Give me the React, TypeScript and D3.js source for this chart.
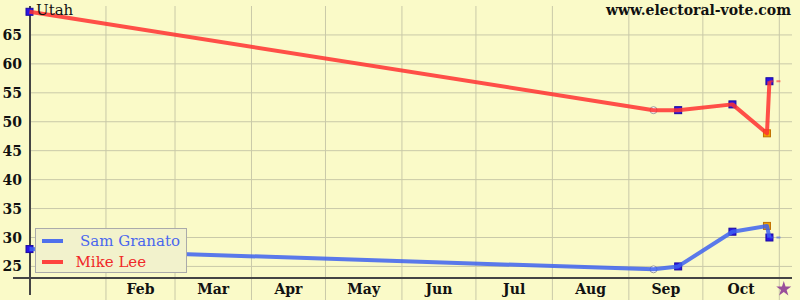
import React from "react";
import * as d3 from "d3";

const W = 800;
const H = 300;

const monthLabels = ["Feb", "Mar", "Apr", "May", "Jun", "Jul", "Aug", "Sep", "Oct"];
const monthStarts = ["2010-02-01", "2010-03-01", "2010-04-01", "2010-05-01", "2010-06-01", "2010-07-01", "2010-08-01", "2010-09-01", "2010-10-01", "2010-11-01"];
const yTicks = [25, 30, 35, 40, 45, 50, 55, 60, 65];

const pollDates = ["2010-01-01", "2010-09-11", "2010-09-21", "2010-10-13", "2010-10-27", "2010-10-28"];
const pollKinds = ["sq", "circ", "sq", "sq", "orange", "sq"];
const leeValues = [69, 52, 52, 53, 48, 57];
const granatoValues = [28, 24.5, 25, 31, 32, 30];
const electionDay = "2010-11-02";

const seriesNames = ["Sam Granato", "Mike Lee"];
const seriesColors = ["#3d62f0", "#ff3030"];
const legendTextColors = ["#4a66ee", "#f02828"];

const parse = (s: string) => new Date(s + "T00:00:00Z");

export default function App() {
  const x = d3.scaleUtc().domain([parse("2010-01-01"), parse("2010-11-01")]).range([29.5, 779.3]);
  const y = d3.scaleLinear().domain([23, 70]).range([278, 6]);

  const mkPts = (vals: number[]) => pollDates.map((d, i) => ({ x: x(parse(d)), y: y(vals[i]), kind: pollKinds[i] }));
  const series = [mkPts(granatoValues), mkPts(leeValues)];
  const line = d3.line<{ x: number; y: number }>().x((d) => d.x).y((d) => d.y);
  const xEnd = x(parse(electionDay));

  const gridColor = "#c9c9a8";
  const axisColor = "#444";
  const font = "'DejaVu Serif', 'Liberation Serif', serif";

  return (
    <svg width={W} height={H} style={{ position: "absolute", left: 0, top: 0 }} xmlns="http://www.w3.org/2000/svg">
      <rect x={0} y={0} width={W} height={H} fill="#fafac8" />
      {yTicks.map((t) => (
        <line key={"h" + t} x1={30} x2={792} y1={y(t)} y2={y(t)} stroke={gridColor} strokeWidth={1} />
      ))}
      {monthStarts.map((m) => (
        <line key={"v" + m} x1={x(parse(m))} x2={x(parse(m))} y1={6} y2={H} stroke={gridColor} strokeWidth={1} />
      ))}
      <line x1={13} x2={792} y1={y(23)} y2={y(23)} stroke={axisColor} strokeWidth={2} />
      <line x1={30} x2={30} y1={6} y2={295} stroke={axisColor} strokeWidth={2} />
      {yTicks.map((t) => (
        <text key={"yl" + t} x={22} y={y(t)} dy="0.36em" textAnchor="end" style={{ fontFamily: font }} fontWeight="bold" fontSize={14} fill="#111">
          {t}
        </text>
      ))}
      {monthLabels.map((m, i) => {
        const a = x(parse(monthStarts[i]));
        const b = x(parse(monthStarts[i + 1]));
        return (
          <text key={"xl" + m} x={(a + b) / 2} y={294} textAnchor="middle" style={{ fontFamily: font }} fontWeight="bold" fontSize={14} fill="#111">
            {m}
          </text>
        );
      })}
      {series.map((pts, si) =>
        pts.map((p, i) =>
          p.kind === "circ" ? (
            <circle key={`c${si}-${i}`} cx={p.x} cy={p.y} r={3.5} fill="#fff" stroke="#999" strokeWidth={1} />
          ) : (
            <rect
              key={`r${si}-${i}`}
              x={p.x - 3.5}
              y={p.y - 3.5}
              width={7}
              height={7}
              fill={p.kind === "orange" ? "#f0a000" : "#2a14e6"}
              stroke={p.kind === "orange" ? "#c07000" : "#1a0aa0"}
              strokeWidth={1}
            />
          )
        )
      )}
      {series.map((pts, si) => (
        <g key={"l" + si}>
          <path d={line(pts) || ""} fill="none" stroke={seriesColors[si]} strokeWidth={4} strokeOpacity={0.85} strokeLinejoin="round" />
          <line
            x1={pts[pts.length - 1].x}
            x2={xEnd}
            y1={pts[pts.length - 1].y}
            y2={pts[pts.length - 1].y}
            stroke={seriesColors[si]}
            strokeOpacity={0.6}
            strokeWidth={2}
            strokeDasharray="4,3"
          />
        </g>
      ))}
      <path d={d3.symbol().type(d3.symbolStar).size(70)() || ""} transform={`translate(${xEnd + 2},289)`} fill="#9a4f9a" />
      <text x={36} y={15} style={{ fontFamily: font }} fontSize={15} fill="#111">
        Utah
      </text>
      <text x={791} y={15} textAnchor="end" style={{ fontFamily: font }} fontWeight="bold" fontSize={14} fill="#111">
        www.electoral-vote.com
      </text>
      <rect x={35.5} y={228.5} width={151} height={44} fill="#f2f2cc" stroke="#aaa" strokeWidth={1} />
      {seriesNames.map((n, i) => (
        <g key={"lg" + n}>
          <line x1={42} x2={63} y1={241 + i * 21} y2={241 + i * 21} stroke={seriesColors[i]} strokeWidth={4} strokeOpacity={0.9} />
          <text x={i === 0 ? 80 : 75.5} y={246 + i * 21} style={{ fontFamily: font }} fontSize={15} fill={legendTextColors[i]}>
            {n}
          </text>
        </g>
      ))}
    </svg>
  );
}
